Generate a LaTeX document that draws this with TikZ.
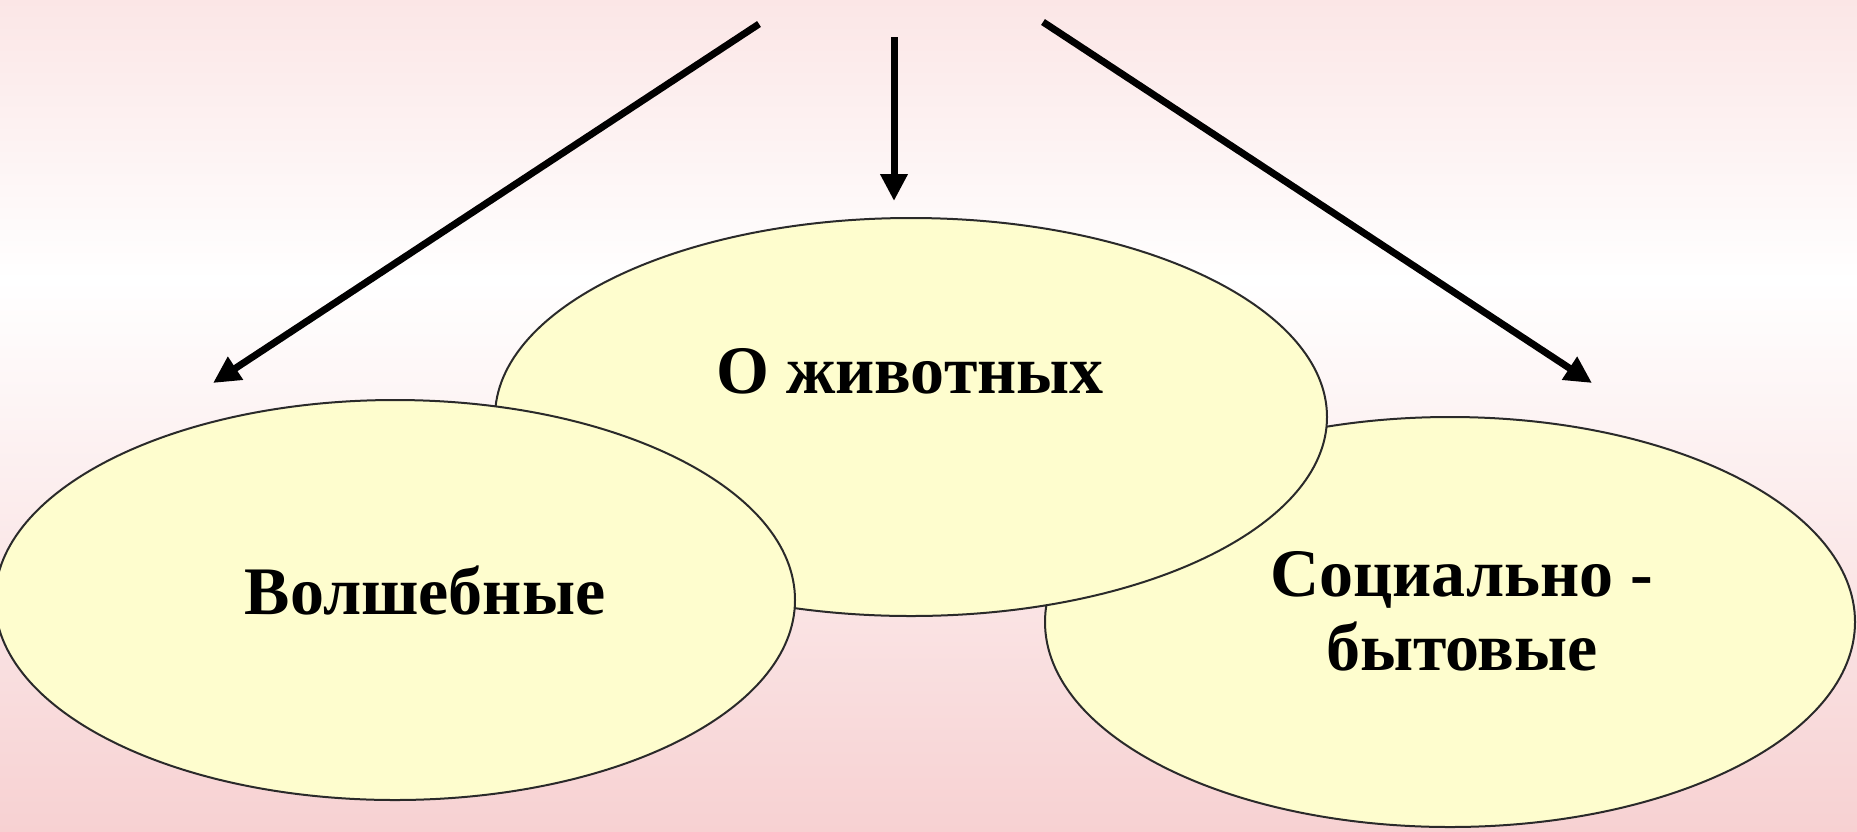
\documentclass[tikz,border=0pt]{standalone}
\usepackage{fontspec}
\setmainfont{Liberation Serif}
\usetikzlibrary{shapes.geometric,arrows.meta}
\definecolor{bgtop}{HTML}{FBE6E6}
\definecolor{bgbot}{HTML}{F7D1D2}
\definecolor{ovalfill}{HTML}{FEFDCE}
\definecolor{ovalline}{HTML}{2A2A2A}
\begin{document}
\begin{tikzpicture}[x=1pt,y=-1pt]
        \tikzstyle{every node}+=[inner sep=0pt]
        \tikzstyle{oval}=[ellipse, draw=ovalline, line width=2pt, fill=ovalfill]
        \tikzstyle{lbl}=[font=\bfseries\fontsize{68}{74}\selectfont, align=center, anchor=base]
        \tikzstyle{arr}=[line width=7pt, -{Triangle[length=27pt,width=26pt]}]
        \useasboundingbox (0,0) rectangle (1857,831);
        \shade [top color=bgtop, bottom color=white] (0,0) rectangle (1857,280);
        \shade [top color=white, bottom color=bgbot] (0,280) rectangle (1857,831);
        \node [oval, minimum width=810pt, minimum height=410pt] (bytovye) at (1450,622) {};
        \node [oval, minimum width=832pt, minimum height=398pt] (zhivotnye) at (911,417) {};
        \node [oval, minimum width=800pt, minimum height=400pt] (volsheb) at (395,600) {};
        \node [lbl] (zhivotnyeT) at (910,393) {О животных};
        \node [lbl] (volshebT) at (425,614) {Волшебные};
        \node [lbl] (bytovyeT) at (1462,670) {Социально -\\бытовые};
        \coordinate (ls) at (759,24);
        \coordinate (le) at (213,383);
        \coordinate (ms) at (894,37);
        \coordinate (me) at (894,201);
        \coordinate (rs) at (1043,22);
        \coordinate (re) at (1592,383);
        \draw [arr] (ls) -- (le);
        \draw [arr] (ms) -- (me);
        \draw [arr] (rs) -- (re);
\end{tikzpicture}
\end{document}
